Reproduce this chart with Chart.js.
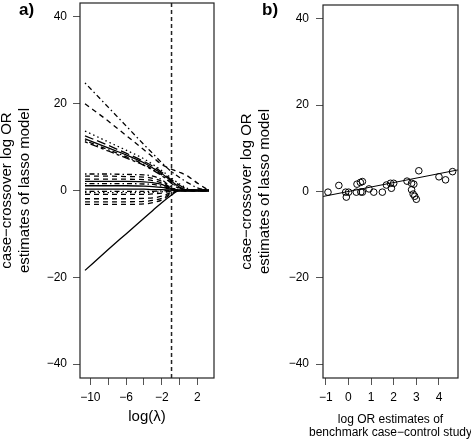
<!DOCTYPE html>
<html>
<head>
<meta charset="utf-8">
<script src="https://cdn.jsdelivr.net/npm/chart.js@4/dist/chart.umd.min.js"></script>
<style>
  body { margin: 0; background: #fff; }
  #wrap { position: relative; width: 471px; height: 440px; }
  canvas { position: absolute; top: 0; }
  #chartA { left: 0; }
  #chartB { left: 236px; }
  .tag { position: absolute; top: 0; line-height: 20px; font: bold 17px 'Liberation Sans', Arial, sans-serif; }
</style>
</head>
<body>
<div id="wrap">
  <canvas id="chartA" width="236" height="440" style="width:236px;height:440px"></canvas>
  <canvas id="chartB" width="235" height="440" style="width:235px;height:440px"></canvas>
  <div class="tag" style="left:19px">a)</div>
  <div class="tag" style="left:262px">b)</div>
</div>
<script>
// panel a: lasso coefficient paths over log(lambda)
const logLambda = [-10.6, -8, -6, -4, -3, -2, -1, 0, 1, 2, 3.3]
const bestLogLambda = -0.9

const pathA = [24.8, 19.2, 14.9, 10.6, 8.5, 6.4, 4.5, 3.0, 1.7, 0.6, 0]
const pathB = [20.0, 16.0, 12.7, 9.4, 7.7, 6.0, 5.0, 4.2, 3.2, 1.7, 0]
const pathC = [13.7, 11.2, 9.3, 7.3, 6.0, 4.6, 3.0, 1.5, 0.4, 0, 0]
const pathD = [12.6, 10.4, 8.6, 6.7, 5.6, 4.2, 2.6, 1.2, 0.2, 0, 0]
const pathE = [11.9, 9.8, 8.2, 6.4, 5.2, 3.9, 2.3, 0.8, 0, 0, 0]
const pathF = [11.5, 9.4, 7.8, 6.0, 4.9, 3.6, 2.0, 0.6, 0, 0, 0]
const pathG = [11.2, 9.1, 7.5, 5.8, 4.7, 3.4, 1.8, 0.4, 0, 0, 0]
const pathH = [3.8, 3.8, 3.7, 3.6, 3.3, 2.5, 0.9, 0, 0, 0, 0]
const pathI = [3.3, 3.3, 3.2, 3.1, 2.8, 2.1, 0.7, 0, 0, 0, 0]
const pathJ = [2.6, 2.6, 2.6, 2.5, 2.3, 1.7, 0.6, 0, 0, 0, 0]
const pathK = [2.1, 2.1, 2.1, 2.0, 1.8, 1.4, 0.5, 0, 0, 0, 0]
const pathL = [1.6, 1.6, 1.6, 1.5, 1.4, 1.0, 0.4, 0, 0, 0, 0]
const pathM = [1.1, 1.1, 1.1, 1.0, 0.9, 0.7, 0.3, 0, 0, 0, 0]
const pathN = [0.3, 0.3, 0.3, 0.3, 0.2, 0.2, 0.1, 0, 0, 0, 0]
const pathO = [-0.2, -0.2, -0.2, -0.2, -0.2, -0.1, 0, 0, 0, 0, 0]
const pathP = [-0.5, -0.5, -0.5, -0.5, -0.4, -0.3, -0.1, 0, 0, 0, 0]
const pathQ = [-0.9, -0.9, -0.9, -0.9, -0.8, -0.6, -0.2, 0, 0, 0, 0]
const pathR = [-1.9, -1.9, -1.9, -1.8, -1.7, -1.3, -0.5, 0, 0, 0, 0]
const pathS = [-2.6, -2.6, -2.6, -2.5, -2.3, -1.8, -0.7, 0, 0, 0, 0]
const pathT = [-3.2, -3.2, -3.2, -3.1, -2.8, -2.2, -0.9, 0, 0, 0, 0]
const pathU = [-18.4, -13.6, -10.0, -6.4, -4.6, -2.8, -1.2, 0, 0, 0, 0]

// panel b: benchmark vs lasso estimates
const benchmarkLogOR = [-0.90, -0.42, -0.12, -0.09, 0.01, 0.35, 0.38, 0.53, 0.62, 0.62, 0.91, 1.12, 1.50, 1.68,
  1.86, 1.90, 2.00, 2.59, 2.79, 2.89, 2.79, 2.86, 2.93, 3.00, 3.11, 4.00, 4.29, 4.60, 0.55]
const lassoLogOR = [-0.15, 1.4, -0.15, -1.3, -0.15, -0.15, 1.7, 2.1, 2.3, -0.15, 0.6, -0.15, -0.15, 1.5,
  1.9, 0.75, 1.9, 2.4, 1.9, 1.7, 0.4, -0.6, -1.1, -1.8, 4.8, 3.4, 2.7, 4.6, -0.1]
const fitLineX = [-1.12, 4.84]
const fitLineY = [-1.15, 5.0]

const yTicks = [-40, -20, 0, 20, 40]
const lambdaTicks = [-10, -8, -6, -4, -2, 0, 2]
const lambdaLabels = [-10, -6, -2, 2]
const orTicks = [-1, 0, 1, 2, 3, 4]
const orTitle = ['log OR estimates of', 'benchmark case\u2212control study']

Chart.defaults.font.family = "'Liberation Sans', Arial, sans-serif"
Chart.defaults.color = '#000'

const dashes = {
  solid: [],
  dashed: [5, 4],
  dotted: [1.5, 3],
  dotdash: [1.5, 3, 5, 3],
  longdash: [9, 4],
  twodash: [3, 3, 8, 3],
}

const coefPaths = [pathA, pathB, pathC, pathD, pathE, pathF, pathG, pathH, pathI, pathJ, pathK,
  pathL, pathM, pathN, pathO, pathP, pathQ, pathR, pathS, pathT, pathU]
const pathStyles = ['dotdash', 'dashed', 'dotted', 'longdash', 'solid', 'dotdash', 'twodash',
  'dotdash', 'dashed', 'dashed', 'solid', 'dotdash', 'solid', 'solid', 'dotdash', 'dotted',
  'dashed', 'dashed', 'dashed', 'dashed', 'solid']

const fmt = v => (v < 0 ? '\u2212' + Math.abs(v) : String(v))

const boxPlugin = {
  id: 'box',
  afterDraw(chart) {
    const { ctx, chartArea: a } = chart
    ctx.save()
    ctx.strokeStyle = '#222'
    ctx.lineWidth = 1.2
    ctx.strokeRect(a.left, a.top, a.right - a.left, a.bottom - a.top)
    ctx.restore()
  },
}

// two-line x title for panel b, drawn without width squeezing
const orTitlePlugin = {
  id: 'orTitle',
  afterDraw(chart) {
    const { ctx, chartArea: a } = chart
    const cx = (a.left + a.right) / 2
    ctx.save()
    ctx.fillStyle = '#000'
    ctx.font = "12px 'Liberation Sans', Arial, sans-serif"
    ctx.textAlign = 'center'
    ctx.textBaseline = 'middle'
    ctx.fillText(orTitle[0], cx, 420)
    ctx.fillText(orTitle[1], cx, 433)
    ctx.restore()
  },
}

function yAxis(width, labelPad, titleTop) {
  return {
    min: -43.2,
    max: 43.2,
    afterFit: s => {
      s.width = width
      s.paddingTop = 0
      s.paddingBottom = 0
    },
    afterBuildTicks: s => {
      s.ticks = yTicks.map(value => ({ value }))
    },
    grid: { drawOnChartArea: false, tickLength: 7, color: '#555' },
    border: { display: false },
    ticks: { padding: labelPad, font: { size: 12 }, callback: fmt },
    title: {
      display: true,
      text: ['case\u2212crossover log OR', 'estimates of lasso model'],
      font: { size: 15, lineHeight: 1.2 },
      padding: { top: titleTop, bottom: 0 },
    },
  }
}

function xAxis(min, max, tickValues, labelValues, title) {
  return {
    type: 'linear',
    min,
    max,
    afterFit: s => {
      s.height = 62
      s.paddingLeft = 0
      s.paddingRight = 0
    },
    afterBuildTicks: s => {
      s.ticks = tickValues.map(value => ({ value }))
    },
    grid: { drawOnChartArea: false, tickLength: 7, color: '#555' },
    border: { display: false },
    ticks: {
      autoSkip: false,
      maxRotation: 0,
      padding: 5,
      font: { size: 12 },
      callback: v => (labelValues.includes(v) ? fmt(v) : ''),
    },
    title,
  }
}

const baseOptions = {
  responsive: false,
  animation: false,
  plugins: { legend: { display: false }, tooltip: { enabled: false } },
}

// panel a
const lassoDatasets = coefPaths.map((path, i) => ({
  data: path.map((y, j) => ({ x: logLambda[j], y })),
  showLine: true,
  borderColor: '#000',
  borderWidth: 1.3,
  borderDash: dashes[pathStyles[i]],
  pointRadius: 0,
  cubicInterpolationMode: 'monotone',
}))
lassoDatasets.push({
  data: [{ x: bestLogLambda, y: -43.2 }, { x: bestLogLambda, y: 43.2 }],
  showLine: true,
  borderColor: '#222',
  borderWidth: 1.5,
  borderDash: [4, 3],
  pointRadius: 0,
})

new Chart(document.getElementById('chartA'), {
  type: 'scatter',
  data: { datasets: lassoDatasets },
  options: {
    ...baseOptions,
    layout: { padding: { left: 0, top: 3, right: 22, bottom: 0 } },
    scales: {
      x: xAxis(-11.16, 3.86, lambdaTicks, lambdaLabels, {
        display: true,
        text: 'log(\u03bb)',
        font: { size: 15, lineHeight: 1.2 },
        padding: { top: 0, bottom: 14 },
      }),
      y: yAxis(80, 6, -2),
    },
  },
  plugins: [boxPlugin],
})

// panel b
new Chart(document.getElementById('chartB'), {
  type: 'scatter',
  data: {
    datasets: [
      {
        data: benchmarkLogOR.map((x, i) => ({ x, y: lassoLogOR[i] })),
        pointRadius: 3.3,
        pointBorderWidth: 1,
        pointBorderColor: '#000',
        pointBackgroundColor: 'rgba(0,0,0,0)',
      },
      {
        data: fitLineX.map((x, i) => ({ x, y: fitLineY[i] })),
        showLine: true,
        borderColor: '#000',
        borderWidth: 1,
        pointRadius: 0,
      },
    ],
  },
  options: {
    ...baseOptions,
    layout: { padding: { left: 0, top: 3, right: 13, bottom: 0 } },
    scales: {
      x: xAxis(-1.12, 4.84, orTicks, orTicks, { display: false }),
      y: yAxis(87, 7, 2),
    },
  },
  plugins: [boxPlugin, orTitlePlugin],
})
</script>
</body>
</html>
